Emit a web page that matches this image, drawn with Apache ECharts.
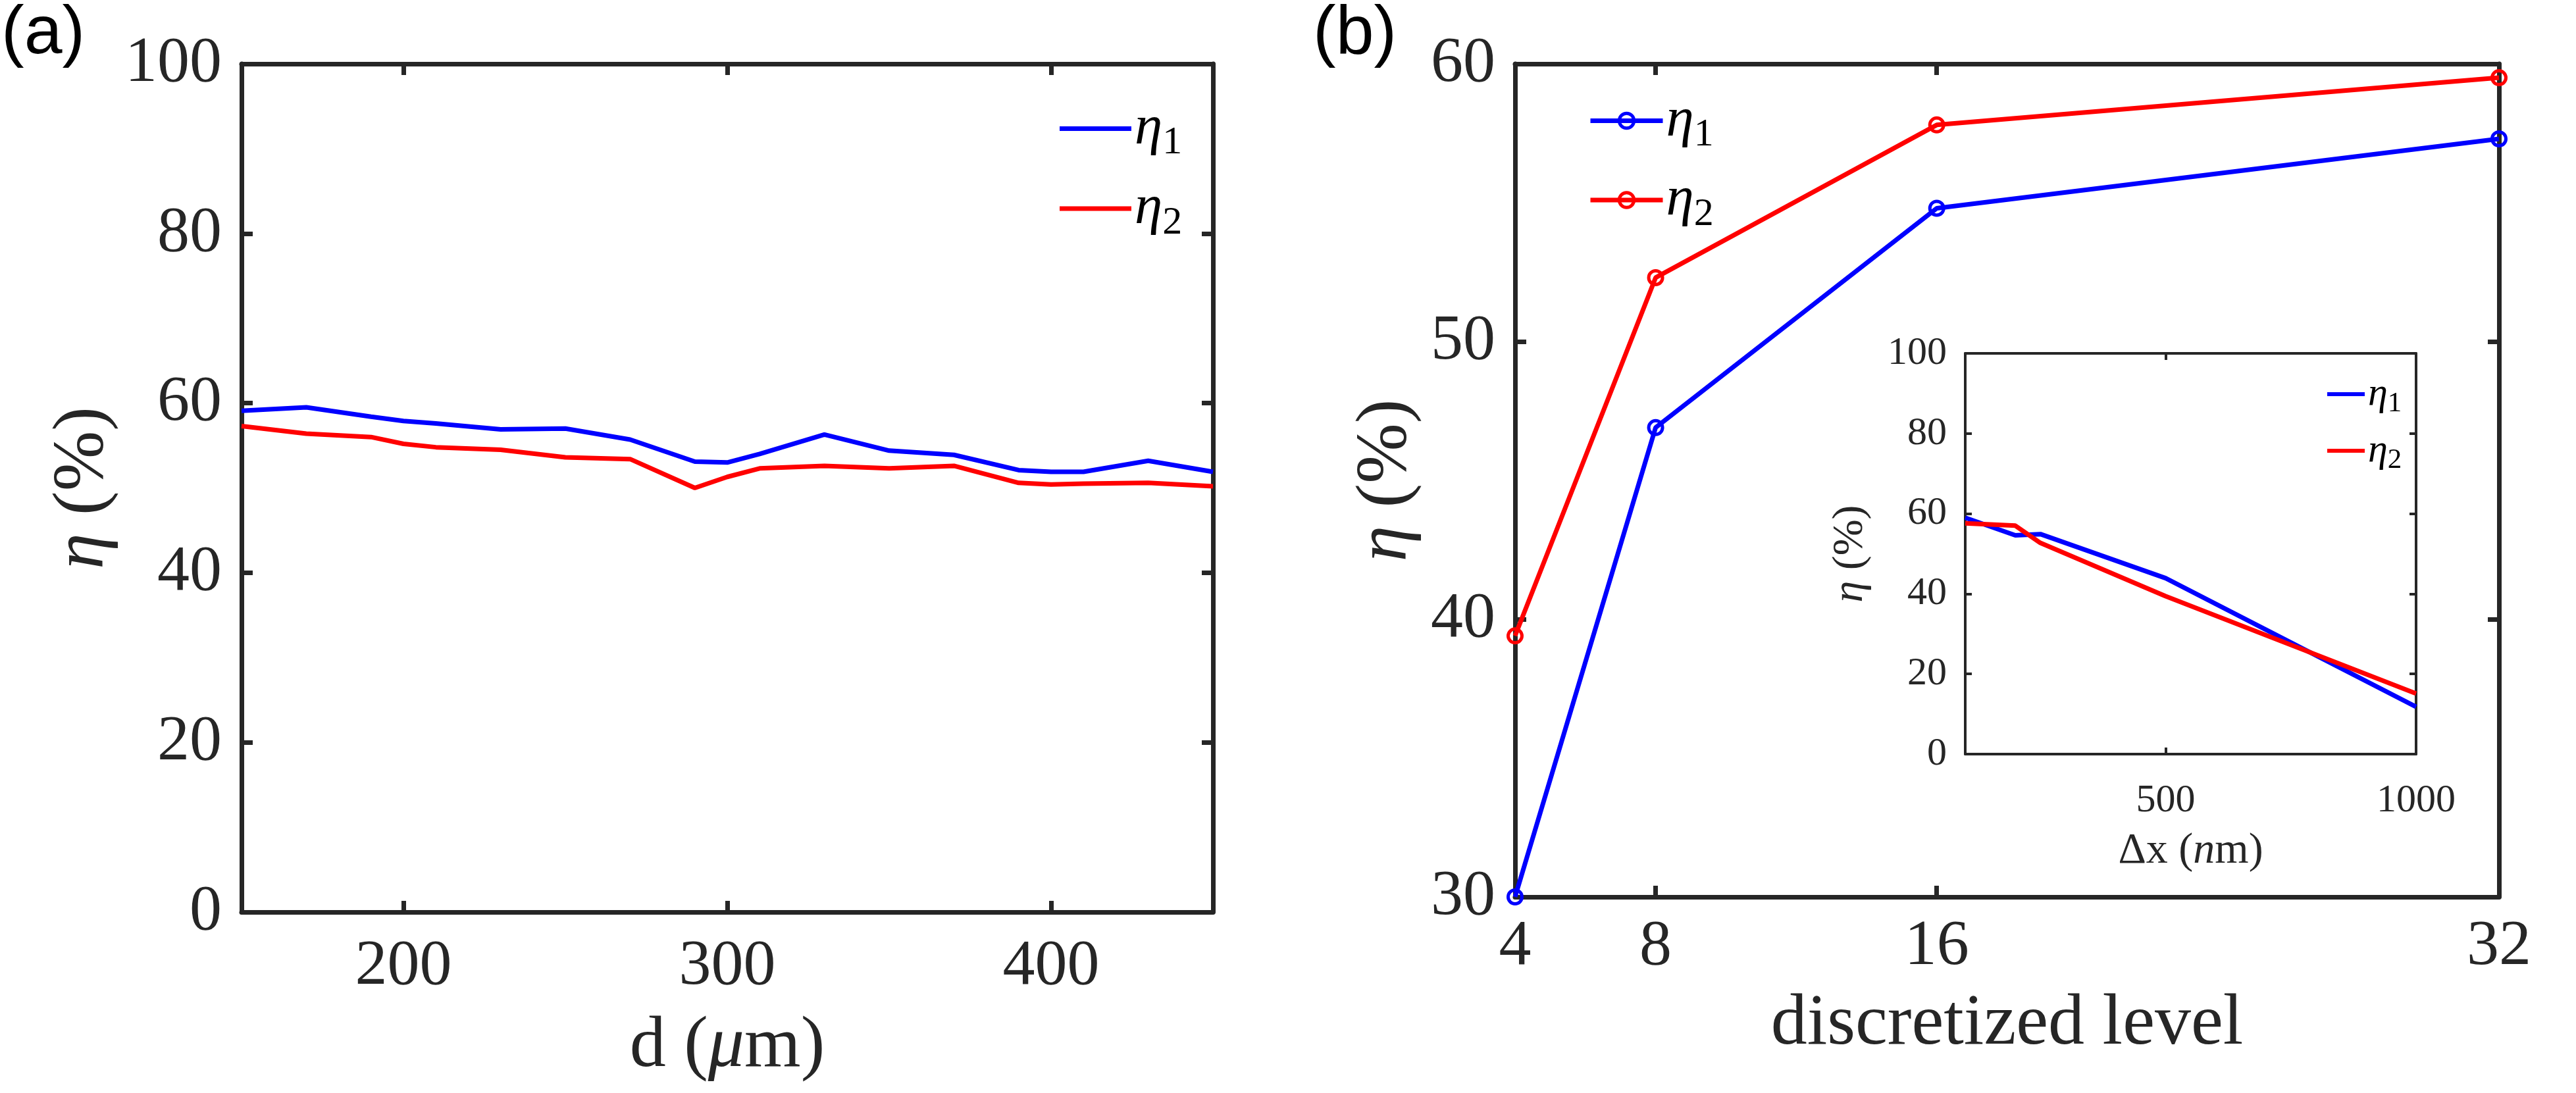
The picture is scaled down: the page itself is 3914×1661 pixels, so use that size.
<!DOCTYPE html>
<html>
<head>
<meta charset="utf-8">
<script src="https://cdn.jsdelivr.net/npm/echarts@6/dist/echarts.min.js"></script>
<style>
  html, body { margin: 0; padding: 0; background: #fff; }
  #chart { width: 3914px; height: 1661px; }
</style>
</head>
<body>
<div id="chart"></div>
<script>
// (a) efficiency vs thickness d (um)
const dValues = [150, 170, 190, 200, 210, 230, 250, 270, 290, 300, 310, 330, 350, 370, 390, 400, 410, 430, 450];
const etaA1 = [59.1, 59.5, 58.4, 57.9, 57.6, 56.9, 57.0, 55.7, 53.1, 53.0, 54.0, 56.3, 54.4, 53.9, 52.1, 51.9, 51.9, 53.2, 51.9];
const etaA2 = [57.3, 56.4, 56.0, 55.2, 54.8, 54.5, 53.6, 53.4, 50.0, 51.3, 52.3, 52.6, 52.3, 52.6, 50.6, 50.4, 50.5, 50.6, 50.2];

// (b) efficiency vs discretized level
const levels = [4, 8, 16, 32];
const etaB1 = [30.0, 46.9, 54.8, 57.3];
const etaB2 = [39.4, 52.3, 57.8, 59.5];

// (b) inset: efficiency vs pixel size dx (nm)
const dxValues = [100, 200, 250, 500, 1000];
const etaC1 = [59.0, 54.6, 54.9, 43.9, 11.8];
const etaC2 = [57.6, 57.0, 52.7, 39.4, 15.1];

// tick labels
const dTicks = [200, 300, 400];
const levelTicks = [4, 8, 16, 32];
const dxTicks = [500, 1000];

const serif = '"Liberation Serif", "DejaVu Serif", serif';
const ink = '#262626';
const BLUE = '#0000ff';
const RED = '#ff0000';

function pairs(xs, ys) {
    return xs.map((x, i) => [x, ys[i]]);
}

const xAxes = [];
const yAxes = [];

// one boxed axes: bottom/left carry labels, top/right only mirror the ticks
function addBox(g, x, y) {
    const line = {show: true, onZero: false, lineStyle: {color: ink, width: g.lw}};
    const tick = {show: true, inside: true, length: g.tick, lineStyle: {color: ink, width: g.lw}};
    const label = {fontFamily: serif, fontSize: g.labelSize, color: ink, formatter: v => String(v)};
    const nameStyle = {
        fontFamily: serif, fontSize: g.nameSize, color: ink,
        rich: {i: {fontFamily: serif, fontStyle: 'italic', fontSize: g.nameSize, color: ink}}
    };
    xAxes.push({
        gridIndex: g.index, type: 'value', position: 'bottom', min: x.min, max: x.max,
        axisLine: line, axisTick: Object.assign({customValues: x.ticks}, tick),
        axisLabel: Object.assign({customValues: x.ticks, margin: x.margin}, label),
        splitLine: {show: false},
        name: x.name, nameLocation: 'middle', nameGap: x.nameGap, nameTextStyle: nameStyle, z: g.z
    });
    xAxes.push({
        gridIndex: g.index, type: 'value', position: 'top', min: x.min, max: x.max,
        axisLine: line, axisTick: Object.assign({customValues: x.ticks}, tick),
        axisLabel: {show: false}, splitLine: {show: false}, z: g.z
    });
    yAxes.push({
        gridIndex: g.index, type: 'value', position: 'left', min: y.min, max: y.max, interval: y.interval,
        axisLine: line, axisTick: tick,
        axisLabel: Object.assign({margin: y.margin}, label),
        splitLine: {show: false},
        name: '{i|η} (%)', nameLocation: 'middle', nameGap: y.nameGap, nameTextStyle: nameStyle, z: g.z
    });
    yAxes.push({
        gridIndex: g.index, type: 'value', position: 'right', min: y.min, max: y.max, interval: y.interval,
        axisLine: line, axisTick: tick,
        axisLabel: {show: false}, splitLine: {show: false}, z: g.z
    });
}

addBox({index: 0, lw: 7, tick: 17, labelSize: 98, nameSize: 110, z: 2},
    {min: 150, max: 450, ticks: dTicks, margin: 34, name: 'd ({i|μ}m)', nameGap: 150},
    {min: 0, max: 100, interval: 20, margin: 30, nameGap: 185});
addBox({index: 1, lw: 7, tick: 17, labelSize: 98, nameSize: 110, z: 2},
    {min: 4, max: 32, ticks: levelTicks, margin: 27, name: 'discretized level', nameGap: 139},
    {min: 30, max: 60, interval: 10, margin: 30, nameGap: 140});
addBox({index: 2, lw: 4, tick: 10, labelSize: 60, nameSize: 66, z: 6},
    {min: 100, max: 1000, ticks: dxTicks, margin: 41, name: 'Δx ({i|n}m)', nameGap: 115},
    {min: 0, max: 100, interval: 20, margin: 28, nameGap: 141});

// eta with a lowered subscript digit
function legendText(big, small, lh, drop) {
    return {
        color: '#000', lineHeight: lh,
        rich: {
            e: {fontFamily: serif, fontStyle: 'italic', fontSize: big, lineHeight: lh, color: '#000'},
            s: {fontFamily: serif, fontSize: small, lineHeight: 10, verticalAlign: 'top', padding: [drop, 0, 0, 0], color: '#000'}
        }
    };
}
const etaLabel = name => '{e|η}{s|' + name.slice(1) + '}';

const chart = echarts.init(document.getElementById('chart'));
chart.setOption({
    animation: false,
    backgroundColor: '#fff',
    title: [
        {text: '(a)', left: 2, top: 0, padding: 0,
            textStyle: {fontFamily: '"Liberation Sans", Arial, sans-serif', fontSize: 104, fontWeight: 'normal', color: '#000'}},
        {text: '(b)', left: 1995, top: 0, padding: 0,
            textStyle: {fontFamily: '"Liberation Sans", Arial, sans-serif', fontSize: 104, fontWeight: 'normal', color: '#000'}}
    ],
    grid: [
        {left: 367, top: 97, width: 1476, height: 1289},
        {left: 2302, top: 97, width: 1495, height: 1266},
        {left: 2986, top: 537, width: 685, height: 609, show: true, backgroundColor: '#fff', borderWidth: 0, z: 5}
    ],
    xAxis: xAxes,
    yAxis: yAxes,
    legend: [
        {orient: 'vertical', left: 1605, top: 148, itemWidth: 109, itemHeight: 7, itemGap: 27, selectedMode: false,
            data: [{name: 'a1', icon: 'rect'}, {name: 'a2', icon: 'rect'}],
            formatter: etaLabel, textStyle: legendText(85, 60, 80, 32)},
        {orient: 'vertical', left: 2408, top: 136, itemWidth: 110, itemHeight: 28, itemGap: 26, selectedMode: false,
            lineStyle: {width: 7}, itemStyle: {borderWidth: 5},
            data: ['b1', 'b2'], formatter: etaLabel, textStyle: legendText(85, 60, 80, 32)},
        {orient: 'vertical', left: 3531, top: 564, itemWidth: 57, itemHeight: 6, itemGap: 20, selectedMode: false, z: 8,
            data: [{name: 'c1', icon: 'rect'}, {name: 'c2', icon: 'rect'}],
            formatter: etaLabel, textStyle: legendText(60, 43, 56, 21)}
    ],
    series: [
        {type: 'line', name: 'a1', xAxisIndex: 0, yAxisIndex: 0, data: pairs(dValues, etaA1), symbol: 'none',
            itemStyle: {color: BLUE}, lineStyle: {color: BLUE, width: 7}},
        {type: 'line', name: 'a2', xAxisIndex: 0, yAxisIndex: 0, data: pairs(dValues, etaA2), symbol: 'none',
            itemStyle: {color: RED}, lineStyle: {color: RED, width: 7}},
        {type: 'line', name: 'b1', xAxisIndex: 2, yAxisIndex: 2, data: pairs(levels, etaB1),
            symbol: 'circle', symbolSize: 21, showSymbol: true, clip: false,
            itemStyle: {color: 'rgba(255,255,255,0)', borderColor: BLUE, borderWidth: 5},
            lineStyle: {color: BLUE, width: 7}},
        {type: 'line', name: 'b2', xAxisIndex: 2, yAxisIndex: 2, data: pairs(levels, etaB2),
            symbol: 'circle', symbolSize: 21, showSymbol: true, clip: false,
            itemStyle: {color: 'rgba(255,255,255,0)', borderColor: RED, borderWidth: 5},
            lineStyle: {color: RED, width: 7}},
        {type: 'line', name: 'c1', xAxisIndex: 4, yAxisIndex: 4, data: pairs(dxValues, etaC1), symbol: 'none', z: 7,
            itemStyle: {color: BLUE}, lineStyle: {color: BLUE, width: 7}},
        {type: 'line', name: 'c2', xAxisIndex: 4, yAxisIndex: 4, data: pairs(dxValues, etaC2), symbol: 'none', z: 7,
            itemStyle: {color: RED}, lineStyle: {color: RED, width: 7}}
    ]
});
</script>
</body>
</html>
